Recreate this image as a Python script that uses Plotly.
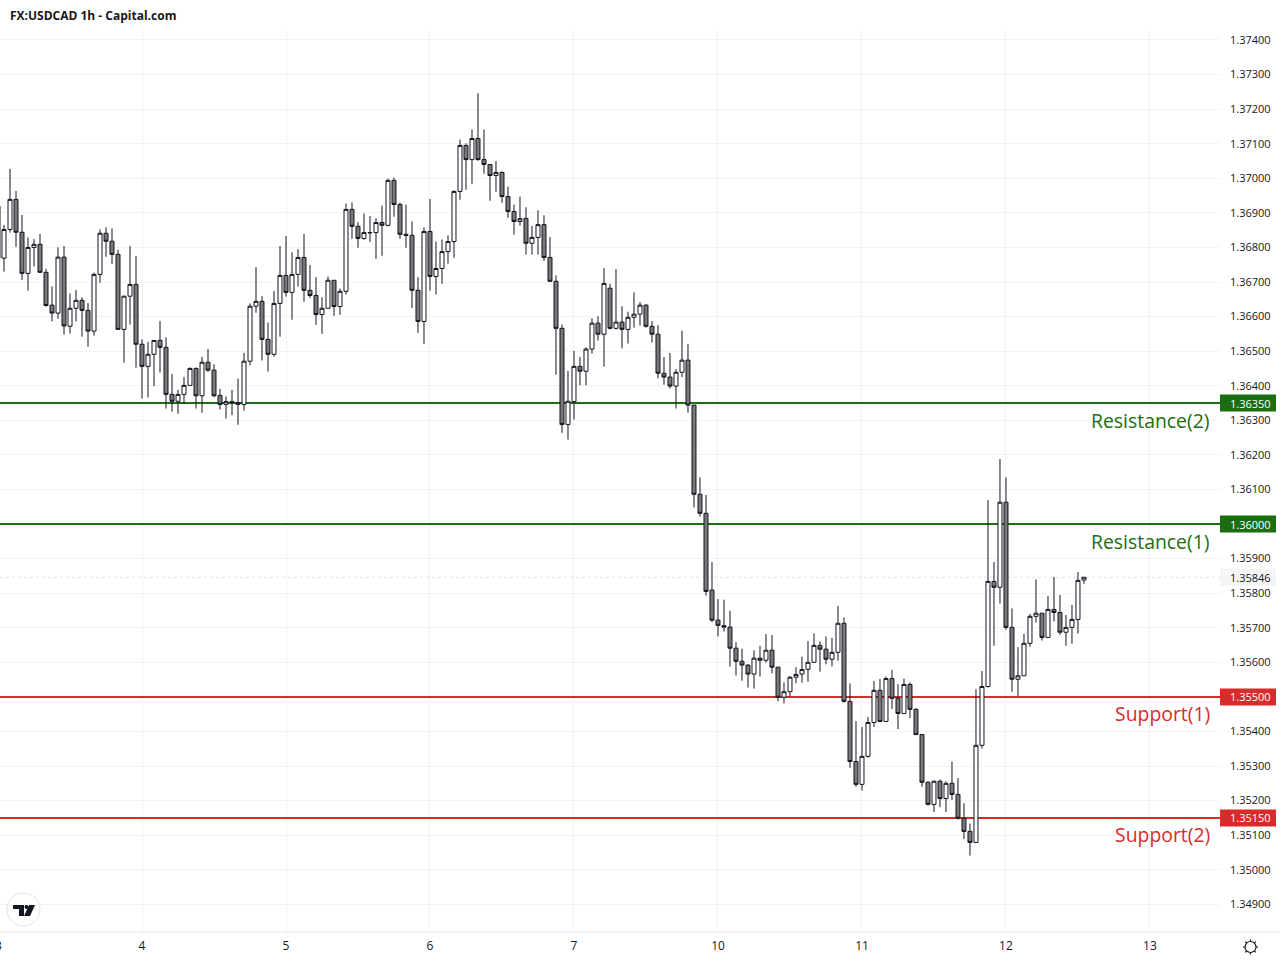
import math
import plotly.graph_objects as go

# prices in points (1.36920 -> 136920), one bar per hour
opens_pts = [
    136920,136769,136852,136939,136844,136725,136800,136809,136728,136633,
    136610,136772,136572,136624,136647,136618,136558,136722,136841,136818,
    136780,136563,136659,136693,136520,136456,136491,136531,136511,136375,
    136355,136375,136401,136450,136371,136468,136445,136372,136346,136354,
    136351,136346,136471,136630,136644,136534,136491,136638,136719,136670,
    136722,136771,136676,136661,136606,136624,136705,136629,136673,136910,
    136861,136826,136842,136843,136872,136864,136994,136924,136838,136835,
    136676,136586,136846,136716,136739,136788,136817,136962,137095,137054,
    137115,137054,137040,137008,137017,136947,136904,136875,136884,136812,
    136829,136866,136771,136702,136566,136288,136354,136456,136442,136506,
    136581,136549,136682,136566,136584,136563,136598,136607,136633,136572,
    136549,136436,136425,136399,136439,136474,136344,136086,136031,135809,
    135722,135706,135702,135641,135603,135592,135566,135612,135606,135635,
    135586,135499,135515,135557,135566,135580,135600,135649,135638,135609,
    135629,135713,135487,135313,135247,135328,135426,135519,135429,135553,
    135496,135452,135536,135464,135391,135253,135189,135256,135206,135250,
    135218,135149,135111,135079,135360,135530,135834,135817,136063,135701,
    135551,135561,135655,135733,135742,135672,135753,135744,135687,135701,
    135724,135838,
]
highs_pts = [
    136920,136865,137027,136963,136894,136829,136824,136839,136738,136687,
    136800,136804,136667,136677,136656,136639,136727,136852,136858,136855,
    136793,136659,136804,136775,136534,136527,136531,136587,136540,136434,
    136388,136425,136453,136453,136483,136506,136462,136391,136369,136388,
    136421,136495,136638,136743,136659,136583,136674,136804,136833,136786,
    136795,136839,136749,136714,136656,136716,136705,136681,136927,136930,
    136873,136898,136891,136884,136921,136999,137002,136930,136924,136875,
    136714,136858,136940,136817,136823,136835,136965,137112,137101,137141,
    137246,137141,137040,137050,137020,136976,136924,136947,136916,136862,
    136907,136893,136830,136719,136577,136443,136501,136483,136511,136595,
    136601,136740,136695,136737,136630,136614,136670,136642,136636,136587,
    136575,136483,136495,136448,136559,136521,136344,136135,136084,135890,
    135783,135781,135749,135658,135639,135595,135635,135648,135682,135679,
    135586,135542,135560,135586,135616,135661,135684,135661,135675,135671,
    135763,135730,135539,135430,135413,135442,135546,135552,135559,135578,
    135537,135553,135542,135467,135391,135256,135258,135261,135256,135313,
    135265,135192,135134,135522,135575,136069,135890,136188,136135,135756,
    135644,135682,135740,135840,135742,135792,135847,135795,135737,135766,
    135861,135846,
]
lows_pts = [
    136769,136730,136843,136802,136706,136675,136745,136728,136629,136586,
    136594,136548,136551,136586,136542,136513,136545,136698,136773,136752,
    136563,136467,136577,136452,136363,136366,136399,136438,136334,136325,
    136319,136348,136401,136334,136322,136440,136367,136331,136305,136315,
    136287,136328,136459,136611,136473,136441,136484,136542,136658,136591,
    136687,136643,136654,136576,136550,136624,136602,136605,136664,136825,
    136799,136822,136816,136767,136776,136861,136889,136825,136799,136625,
    136553,136521,136675,136664,136695,136753,136770,136938,136967,136984,
    137051,137013,136935,136961,136929,136886,136837,136863,136779,136779,
    136779,136761,136702,136432,136264,136244,136302,136401,136401,136493,
    136531,136455,136563,136563,136508,136522,136568,136574,136568,136525,
    136421,136403,136392,136334,136425,136322,136048,136022,135793,135716,
    135675,135689,135588,135562,135547,135527,135524,135559,135599,135568,
    135487,135481,135501,135539,135541,135544,135600,135573,135594,135588,
    135605,135484,135295,135240,135229,135324,135413,135429,135429,135465,
    135407,135452,135439,135391,135240,135186,135167,135181,135167,135202,
    135145,135089,135041,135079,135350,135527,135648,135770,135694,135515,
    135503,135561,135645,135715,135663,135672,135718,135680,135648,135654,
    135683,135827,
]
closes_pts = [
    136769,136852,136939,136844,136725,136800,136809,136728,136632,136610,
    136772,136573,136624,136647,136618,136558,136722,136841,136818,136780,
    136563,136659,136693,136520,136456,136491,136531,136511,136375,136355,
    136375,136401,136450,136371,136468,136445,136371,136346,136354,136351,
    136346,136471,136630,136644,136534,136491,136638,136719,136670,136722,
    136771,136676,136661,136606,136624,136705,136629,136673,136910,136861,
    136826,136843,136843,136872,136864,136994,136924,136838,136835,136676,
    136586,136846,136716,136739,136788,136817,136962,137095,137054,137115,
    137054,137040,137008,137017,136947,136904,136875,136883,136812,136829,
    136866,136771,136702,136566,136288,136355,136456,136442,136506,136581,
    136549,136696,136566,136584,136563,136598,136607,136633,136572,136549,
    136436,136425,136399,136439,136474,136344,136086,136031,135805,135722,
    135707,135702,135641,135603,135592,135566,135612,135606,135635,135586,
    135499,135515,135557,135565,135579,135600,135649,135638,135609,135629,
    135713,135487,135313,135247,135328,135426,135519,135429,135553,135496,
    135452,135536,135464,135391,135253,135189,135256,135206,135250,135218,
    135149,135111,135079,135360,135530,135834,135817,136063,135701,135551,
    135561,135655,135733,135742,135672,135753,135744,135687,135701,135724,
    135837,135846,
]

day_ticks = [24, 48, 72, 96, 120, 144, 168, 192]
day_labels = ["4", "5", "6", "7", "10", "11", "12", "13"]

level_prices = [1.36350, 1.36000, 1.35500, 1.35150]
level_names = ["Resistance(2)", "Resistance(1)", "Support(1)", "Support(2)"]
level_colors = ["#1b6e12", "#1b6e12", "#d92b2b", "#d92b2b"]
last_price = 1.35846

FONT = "Open Sans"
INK = "#131722"
PLOT_W, PLOT_H, TOP = 1220, 901, 31
X_RANGE = [1 / 3, 203.67]


def px(x):
    return x / PLOT_W


def py(y):
    return (TOP + PLOT_H - y) / PLOT_H


def path(points, close=True):
    return "M" + "L".join(f"{px(x)},{py(y)}" for x, y in points) + ("Z" if close else "")


def price_tag(price, bg, color):
    # box right of the plot, price text centred on it
    shapes.append(dict(type="rect", xref="paper", x0=1, x1=px(1276), yref="y", ysizemode="pixel",
                       yanchor=price, y0=-8.5, y1=8.5, line=dict(width=0), fillcolor=bg, layer="above"))
    annotations.append(dict(xref="paper", x=px(1251), xanchor="center", yref="y", y=price,
                            text=f"{price:.5f}", showarrow=False,
                            font=dict(family=FONT, size=11, color=color)))


bars = list(range(len(opens_pts)))

fig = go.Figure()
fig.add_trace(go.Candlestick(
    x=bars,
    open=[v / 1e5 for v in opens_pts],
    high=[v / 1e5 for v in highs_pts],
    low=[v / 1e5 for v in lows_pts],
    close=[v / 1e5 for v in closes_pts],
    whiskerwidth=0,
    increasing=dict(line=dict(color=INK, width=1), fillcolor="#ffffff"),
    decreasing=dict(line=dict(color=INK, width=1), fillcolor="#787878"),
    showlegend=False,
))

shapes = []
annotations = []

# last price dots
shapes.append(dict(type="line", xref="x", x0=X_RANGE[0], x1=X_RANGE[1], yref="y", y0=last_price, y1=last_price,
                   line=dict(color="#dfe1e6", width=1, dash="dot"), layer="between"))
price_tag(last_price, "#f5f5f5", INK)

# support / resistance lines, their names and price tags
# xref x here: paper referenced shapes would go under the grid
for price, name, color in zip(level_prices, level_names, level_colors):
    shapes.append(dict(type="line", xref="x", x0=X_RANGE[0], x1=X_RANGE[1], yref="y", y0=price, y1=price,
                       line=dict(color=color, width=2), layer="between"))
    annotations.append(dict(xref="paper", x=px(1212), xanchor="right", yref="y", y=price, yshift=-17,
                            text=name, showarrow=False, font=dict(family=FONT, size=19.4, color=color)))
    price_tag(price, color, "#ffffff")

annotations.append(dict(xref="paper", x=px(8), xanchor="left", yref="paper", y=py(15), yanchor="middle",
                        text="<b>FX:USDCAD 1h - Capital.com</b>", showarrow=False,
                        font=dict(family=FONT, size=12, color=INK)))
# day 3 sits half off the left edge
annotations.append(dict(xref="paper", x=px(-2), xanchor="center", yref="paper", y=py(945), yanchor="middle",
                        text="3", showarrow=False, font=dict(family=FONT, size=12, color=INK)))

# bottom axis line runs the full width
shapes.append(dict(type="line", xref="paper", x0=0, x1=px(1280), yref="paper", y0=0, y1=0,
                   line=dict(color="#e0e3eb", width=1)))

# tradingview badge
shapes.append(dict(type="circle", xref="paper", yref="paper", x0=px(7), x1=px(40), y0=py(893), y1=py(926),
                   line=dict(color="#e0e3eb", width=1), fillcolor="#ffffff", layer="above"))
shapes.append(dict(type="path", xref="paper", yref="paper", line=dict(width=0), fillcolor=INK, layer="above",
                   path=path([(13, 905), (24, 905), (24, 916), (19, 916), (19, 909), (13, 909)])))
shapes.append(dict(type="path", xref="paper", yref="paper", line=dict(width=0), fillcolor=INK, layer="above",
                   path=path([(29, 905), (35, 905), (30, 916), (24, 916)])))
shapes.append(dict(type="circle", xref="paper", yref="paper", x0=px(24.5), x1=px(28.5), y0=py(905), y1=py(909),
                   line=dict(width=0), fillcolor=INK, layer="above"))

# settings gear: ring with eight short teeth
shapes.append(dict(type="circle", xref="paper", yref="paper", x0=px(1245), x1=px(1256), y0=py(941.5), y1=py(952.5),
                   line=dict(color=INK, width=1.2)))
for k in range(8):
    a = math.pi * k / 4
    tooth = [(1250.5 + r * math.cos(a), 947 + r * math.sin(a)) for r in (5.5, 7.5)]
    shapes.append(dict(type="path", xref="paper", yref="paper", path=path(tooth, close=False),
                       line=dict(color=INK, width=1.2)))

fig.update_layout(
    width=1280, height=960, autosize=False,
    margin=dict(l=0, r=60, t=TOP, b=28, pad=0),
    paper_bgcolor="#ffffff", plot_bgcolor="#ffffff",
    boxgap=0.2, boxgroupgap=0.167,
    showlegend=False, shapes=shapes, annotations=annotations,
    xaxis=dict(range=X_RANGE, tickmode="array", tickvals=day_ticks, ticktext=day_labels,
               rangeslider=dict(visible=False), showgrid=True, gridcolor="#f2f3f5", gridwidth=1,
               zeroline=False, showline=False, ticks="", ticklabelstandoff=5,
               tickfont=dict(family=FONT, size=12, color=INK)),
    yaxis=dict(side="right", range=[1.34820, 1.37426], tick0=1.349, dtick=0.001, tickformat=".5f",
               showgrid=True, gridcolor="#f2f3f5", gridwidth=1, zeroline=False, showline=False, ticks="",
               ticklabelstandoff=9, tickfont=dict(family=FONT, size=11, color=INK)),
)

fig.write_html("out.html", config=dict(displayModeBar=False),
               post_script="document.body.style.margin='0';")
